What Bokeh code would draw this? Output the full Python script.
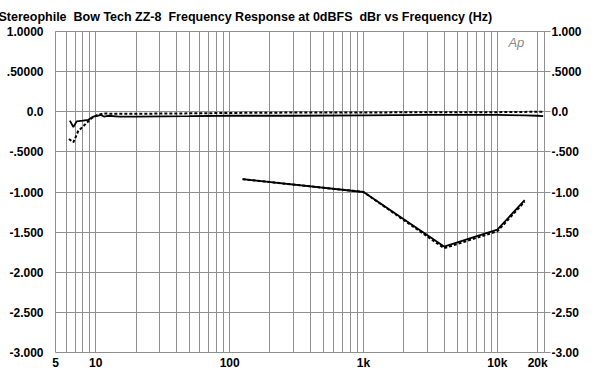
from bokeh.plotting import figure
from bokeh.models import FixedTicker, LinearAxis, CustomJSTickFormatter, Label, Range1d
from bokeh.embed import file_html
from bokeh.resources import INLINE

# ---- data ----
title_text = "Stereophile\u00a0 Bow Tech ZZ-8\u00a0 Frequency Response at 0dBFS\u00a0 dBr vs Frequency (Hz)"

# channel 1 (solid), low-frequency / flat trace
f1a = [6.4, 6.8, 7.2, 8.0, 8.8, 9.6, 10.3, 10.9, 11.5, 12.3, 15, 20, 50, 100, 300, 1000, 3000, 10000, 16000, 20000, 22000]
v1a = [-0.11, -0.19, -0.12, -0.11, -0.10, -0.06, -0.05, -0.04, -0.06, -0.05, -0.06, -0.06, -0.055, -0.05, -0.05, -0.045, -0.04, -0.04, -0.045, -0.05, -0.055]
# channel 2 (dotted), low-frequency / flat trace
f2a = [6.3, 6.8, 7.4, 8.3, 9.3, 10.3, 11.5, 13, 20, 50, 100, 300, 1000, 3000, 10000, 20000, 22000]
v2a = [-0.34, -0.38, -0.24, -0.16, -0.08, -0.04, -0.02, -0.025, -0.025, -0.02, -0.015, -0.01, -0.01, -0.005, -0.005, 0.0, 0.0]

# second traces
f1b = [125, 1000, 4000, 10000, 16000]
v1b = [-0.84, -1.0, -1.68, -1.47, -1.10]
f2b = [125, 1000, 4000, 10000, 16000]
v2b = [-0.84, -1.0, -1.70, -1.49, -1.12]

x_ticks = [5, 10, 100, 1000, 10000, 20000]
x_labels = ["5", "10", "100", "1k", "10k", "20k"]
x_grid = [6, 7, 8, 9, 10, 20, 30, 40, 50, 60, 70, 80, 90, 100,
          200, 300, 400, 500, 600, 700, 800, 900, 1000,
          2000, 3000, 4000, 5000, 6000, 7000, 8000, 9000, 10000, 20000]
y_ticks = [-3.0, -2.5, -2.0, -1.5, -1.0, -0.5, 0.0, 0.5, 1.0]
y_labels_left = ["-3.000", "-2.500", "-2.000", "-1.500", "-1.000", "-.5000", "0.0", ".50000", "1.0000"]
y_labels_right = ["-3.00", "-2.50", "-2.00", "-1.50", "-1.00", "-.500", "0.0", ".5000", "1.000"]

FONT = "Liberation Sans"
GRID = "#8f8f8f"

def fmt(vals, labs):
    return CustomJSTickFormatter(
        args=dict(vals=vals, labs=labs),
        code="const i = vals.findIndex(v => Math.abs(v - tick) < 1e-6); return i >= 0 ? labs[i] : '';")

p = figure(width=584, height=372, x_axis_type="log",
           x_range=Range1d(5, 22500), y_range=Range1d(-3, 1),
           output_backend="svg", toolbar_location=None,
           min_border_left=55, min_border_right=36, min_border_top=30, min_border_bottom=18)

p.title.text = title_text
p.title.text_font = FONT
p.title.text_font_size = "12.5px"
p.title.text_font_style = "bold"
p.title.text_color = "black"
p.title.align = "left"
p.title.offset = -57
p.title.standoff = 15

p.outline_line_color = GRID
p.outline_line_width = 1
p.background_fill_color = "white"
p.border_fill_color = "white"

# x axis
xa = p.xaxis[0]
xa.ticker = FixedTicker(ticks=x_ticks)
xa.formatter = fmt(x_ticks, x_labels)
xa.axis_line_color = None
xa.major_tick_line_color = None
xa.minor_tick_line_color = None
xa.major_tick_out = 0
xa.minor_tick_out = 0
xa.major_label_standoff = 3
xa.major_label_text_font = FONT
xa.major_label_text_font_size = "12px"
xa.major_label_text_font_style = "bold"
xa.major_label_text_color = "black"

# left y axis
ya = p.yaxis[0]
ya.ticker = FixedTicker(ticks=y_ticks)
ya.formatter = fmt(y_ticks, y_labels_left)
ya.axis_line_color = None
ya.major_tick_line_color = None
ya.minor_tick_line_color = None
ya.major_tick_out = 0
ya.minor_tick_out = 0
ya.major_label_standoff = 12
ya.major_label_text_font = FONT
ya.major_label_text_font_size = "12px"
ya.major_label_text_font_style = "bold"
ya.major_label_text_color = "black"

# right y axis
ra = LinearAxis(ticker=FixedTicker(ticks=y_ticks), formatter=fmt(y_ticks, y_labels_right))
ra.axis_line_color = None
ra.major_tick_line_color = GRID
ra.major_tick_in = 0
ra.major_tick_out = 6
ra.minor_tick_out = 0
ra.minor_tick_line_color = None
ra.major_label_standoff = 1
ra.major_label_text_font = FONT
ra.major_label_text_font_size = "12px"
ra.major_label_text_font_style = "bold"
ra.major_label_text_color = "black"
p.add_layout(ra, "right")

p.xgrid.ticker = FixedTicker(ticks=x_grid)
p.xgrid.grid_line_color = GRID
p.xgrid.grid_line_width = 1
p.ygrid.ticker = FixedTicker(ticks=y_ticks)
p.ygrid.grid_line_color = GRID
p.ygrid.grid_line_width = 1

# traces
p.line(f2a, v2a, line_color="black", line_width=2, line_dash="3 2")
p.line(f1a, v1a, line_color="black", line_width=1.8)
p.line(f2b, v2b, line_color="black", line_width=2, line_dash="3 2")
p.line(f1b, v1b, line_color="black", line_width=1.8)

p.add_layout(Label(x=12100, y=0.867, text="Ap", text_font=FONT, text_font_style="italic",
                   text_font_size="13px", text_color="#8a8a8a", text_baseline="middle"))

open("out.html", "w").write(file_html(p, INLINE))
